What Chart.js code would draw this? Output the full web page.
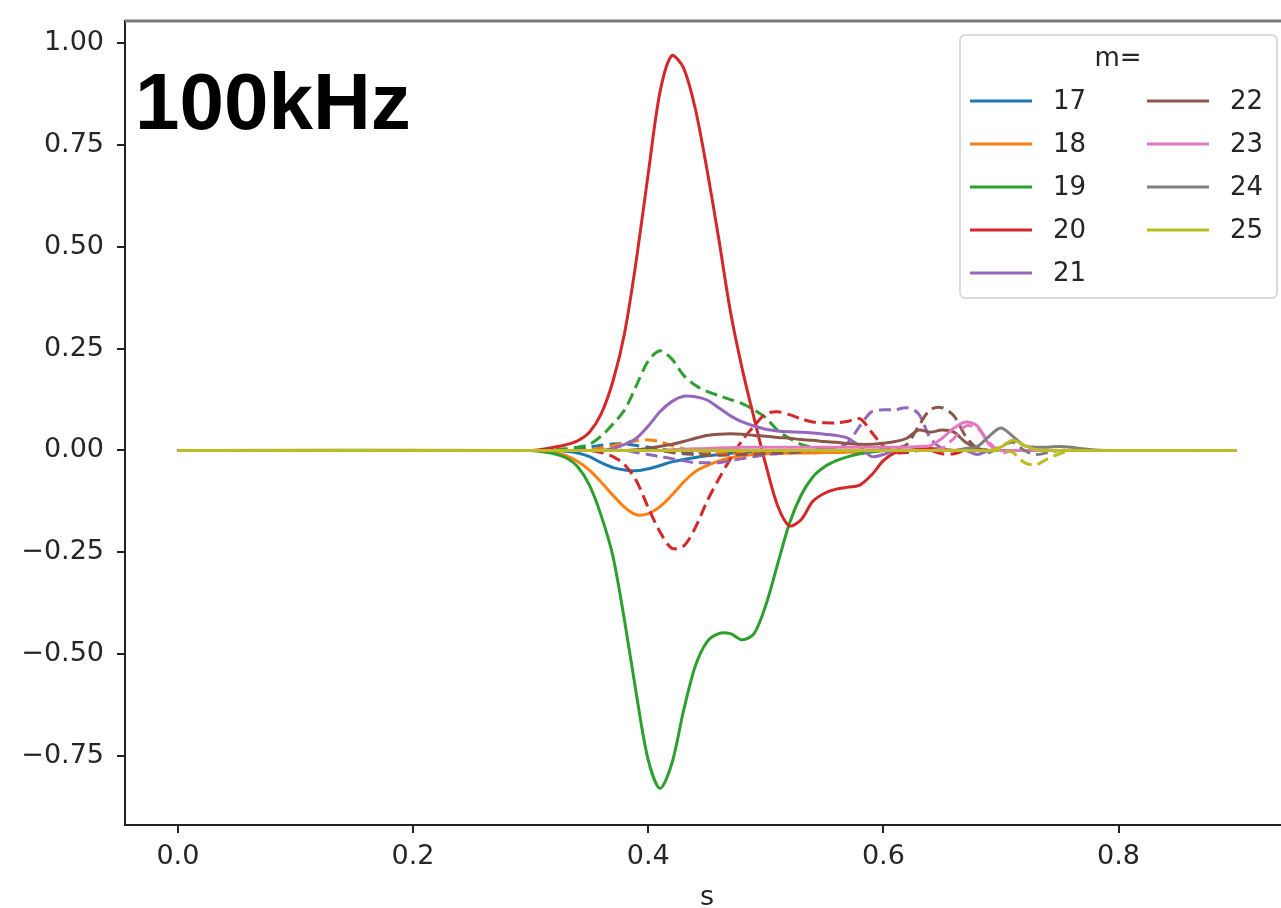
<!DOCTYPE html>
<html>
<head>
<meta charset="utf-8">
<script src="https://cdn.jsdelivr.net/npm/chart.js@4"></script>
<style>
  body { margin: 0; background: #fff; overflow: hidden; }
  canvas { display: block; }
</style>
</head>
<body>
<canvas id="chart" width="1300" height="908"></canvas>
<script>
// s positions (0.0, then 0.30 .. 0.80 in 0.01 steps, then 0.90)
const sValues = [0.00,
  0.30, 0.31, 0.32, 0.33, 0.34, 0.35, 0.36, 0.37, 0.38, 0.39,
  0.40, 0.41, 0.42, 0.43, 0.44, 0.45, 0.46, 0.47, 0.48, 0.49,
  0.50, 0.51, 0.52, 0.53, 0.54, 0.55, 0.56, 0.57, 0.58, 0.59,
  0.60, 0.61, 0.62, 0.63, 0.64, 0.65, 0.66, 0.67, 0.68, 0.69,
  0.70, 0.71, 0.72, 0.73, 0.74, 0.75, 0.76, 0.77, 0.78, 0.79,
  0.80, 0.90];

const modes = ["17", "18", "19", "20", "21", "22", "23", "24", "25"];
const colors = ["#1f77b4", "#ff7f0e", "#2ca02c", "#d62728", "#9467bd",
                "#8c564b", "#e377c2", "#7f7f7f", "#bcbd22"];

// solid lines
const re17 = [0,
  0, 0, 0, -0.002, -0.006, -0.015, -0.03, -0.042, -0.048, -0.05,
  -0.045, -0.037, -0.028, -0.022, -0.017, -0.013, -0.01, -0.007, -0.005, -0.003,
  -0.002, 0, 0, 0, 0, 0, 0, 0, 0, 0,
  0, 0, 0, 0, 0, 0, 0, 0, 0, 0,
  0, 0, 0, 0, 0, 0, 0, 0, 0, 0,
  0, 0];
const re18 = [0,
  0, -0.002, -0.005, -0.013, -0.027, -0.048, -0.078, -0.11, -0.14, -0.158,
  -0.155, -0.138, -0.11, -0.078, -0.052, -0.037, -0.026, -0.018, -0.013, -0.01,
  -0.008, -0.007, -0.006, -0.006, -0.006, -0.005, -0.005, -0.004, -0.003, -0.002,
  0, 0, 0, 0, 0, 0, 0, 0, 0, 0,
  0, 0, 0, 0, 0, 0, 0, 0, 0, 0,
  0, 0];
const re19 = [0,
  0, -0.003, -0.008, -0.018, -0.04, -0.085, -0.16, -0.26, -0.42, -0.60,
  -0.76, -0.83, -0.77, -0.64, -0.53, -0.47, -0.45, -0.45, -0.465, -0.45,
  -0.38, -0.28, -0.18, -0.11, -0.065, -0.04, -0.025, -0.015, -0.008, -0.004,
  0, 0, 0, 0, 0, 0, 0, 0, 0, 0,
  0, 0, 0, 0, 0, 0, 0, 0, 0, 0,
  0, 0];
const re20 = [0,
  0, 0.003, 0.008, 0.014, 0.024, 0.045, 0.09, 0.17, 0.29, 0.47,
  0.68, 0.88, 0.97, 0.94, 0.84, 0.69, 0.52, 0.34, 0.20, 0.08,
  -0.035, -0.135, -0.185, -0.17, -0.125, -0.105, -0.095, -0.09, -0.085, -0.06,
  -0.025, -0.005, 0, 0.003, 0.005, 0.003, 0, 0, 0, 0,
  0, 0, 0, 0, 0, 0, 0, 0, 0, 0,
  0, 0];
const re21 = [0,
  0, 0, 0, 0, 0, 0, 0, 0.005, 0.015, 0.03,
  0.06, 0.095, 0.12, 0.133, 0.132, 0.124, 0.105, 0.085, 0.07, 0.06,
  0.052, 0.048, 0.046, 0.045, 0.043, 0.04, 0.037, 0.03, 0.01, -0.015,
  -0.01, 0, 0, 0, 0, 0, 0, 0, -0.01, 0,
  0, 0, 0, 0, 0, 0, 0, 0, 0, 0,
  0, 0];
const re22 = [0,
  0, 0, 0, 0, 0, 0, 0, 0, 0, 0.002,
  0.005, 0.01, 0.015, 0.022, 0.03, 0.037, 0.04, 0.041, 0.04, 0.037,
  0.035, 0.032, 0.03, 0.027, 0.025, 0.022, 0.02, 0.017, 0.015, 0.015,
  0.018, 0.022, 0.03, 0.05, 0.045, 0.05, 0.045, 0.02, 0.005, 0,
  0, 0, 0, 0, 0, 0, 0, 0, 0, 0,
  0, 0];
const re23 = [0,
  0, 0, 0, 0, 0, 0, 0, 0, 0, 0,
  0, 0, 0.002, 0.003, 0.004, 0.005, 0.006, 0.007, 0.008, 0.008,
  0.008, 0.008, 0.008, 0.008, 0.008, 0.008, 0.008, 0.008, 0.008, 0.008,
  0.008, 0.008, 0.008, 0.01, 0.012, 0.03, 0.055, 0.07, 0.06, 0.015,
  0, 0, 0, 0, 0, 0, 0, 0, 0, 0,
  0, 0];
const re24 = [0,
  0, 0, 0, 0, 0, 0, 0, 0, 0, 0,
  0, 0, 0, 0, 0, 0, 0, 0, 0, 0,
  0, 0, 0, 0, 0, 0, 0, 0, 0, 0,
  0, 0, 0, 0, 0, 0, 0, 0.005, 0.01, 0.035,
  0.055, 0.035, 0.012, 0.008, 0.008, 0.01, 0.008, 0.004, 0.001, 0,
  0, 0];
const re25 = [0,
  0, 0, 0, 0, 0, 0, 0, 0, 0, 0,
  0, 0, 0, 0, 0, 0, 0, 0, 0, 0,
  0, 0, 0, 0, 0, 0, 0, 0, 0, 0,
  0, 0, 0, 0, 0, 0, 0, 0, 0, 0,
  0.008, 0.025, 0.012, 0.002, 0, 0, 0, 0, 0, 0,
  0, 0];

// dashed lines
const im17 = [0,
  0, 0, 0, 0, 0.004, 0.008, 0.013, 0.016, 0.016, 0.012,
  0.008, 0.003, 0, -0.003, -0.005, -0.005, -0.004, -0.002, 0, 0,
  0, 0, 0, 0, 0, 0, 0, 0, 0, 0,
  0, 0, 0, 0, 0, 0, 0, 0, 0, 0,
  0, 0, 0, 0, 0, 0, 0, 0, 0, 0,
  0, 0];
const im18 = [0,
  0, 0, 0, 0, 0, 0.002, 0.006, 0.012, 0.018, 0.024,
  0.026, 0.022, 0.012, 0.004, 0, -0.004, -0.006, -0.006, -0.006, -0.006,
  -0.006, -0.006, -0.006, -0.005, -0.005, -0.004, -0.004, -0.003, -0.002, -0.001,
  0, 0, 0, 0, 0, 0, 0, 0, 0, 0,
  0, 0, 0, 0, 0, 0, 0, 0, 0, 0,
  0, 0];
const im19 = [0,
  0, 0, 0.002, 0.004, 0.008, 0.015, 0.035, 0.065, 0.10, 0.16,
  0.22, 0.245, 0.225, 0.185, 0.16, 0.145, 0.135, 0.125, 0.115, 0.10,
  0.08, 0.05, 0.03, 0.015, 0.007, 0.003, 0, 0, 0, 0,
  0, 0, 0, 0, 0, 0, 0, 0, 0, 0,
  0, 0, 0, 0, 0, 0, 0, 0, 0, 0,
  0, 0];
const im20 = [0,
  0, 0, 0, 0, 0, 0, -0.005, -0.015, -0.035, -0.075,
  -0.14, -0.20, -0.24, -0.235, -0.19, -0.125, -0.07, -0.02, 0.025, 0.06,
  0.09, 0.095, 0.088, 0.078, 0.07, 0.068, 0.068, 0.072, 0.078, 0.045,
  0.01, -0.005, -0.005, 0, 0, -0.008, -0.008, 0, 0, 0,
  0, 0, 0, 0, 0, 0, 0, 0, 0, 0,
  0, 0];
const im21 = [0,
  0, 0, 0, 0, 0, 0, 0, 0, 0, -0.005,
  -0.01, -0.015, -0.02, -0.025, -0.03, -0.03, -0.03, -0.025, -0.02, -0.015,
  -0.01, -0.008, -0.005, -0.003, 0, 0.002, 0.005, 0.02, 0.06, 0.095,
  0.10, 0.10, 0.105, 0.09, 0.03, 0.005, 0, 0, 0, 0,
  0, 0, 0, 0, 0, 0, 0, 0, 0, 0,
  0, 0];
const im22 = [0,
  0, 0, 0, 0, 0, 0, 0, 0, 0, 0,
  0, 0, -0.005, -0.008, -0.01, -0.012, -0.012, -0.011, -0.01, -0.009,
  -0.008, -0.006, -0.005, -0.003, 0, 0, 0, 0, 0, 0,
  0.003, 0.005, 0.015, 0.06, 0.10, 0.105, 0.085, 0.035, 0.005, 0,
  0, 0, 0, 0, 0, 0, 0, 0, 0, 0,
  0, 0];
const im23 = [0,
  0, 0, 0, 0, 0, 0, 0, 0, 0, 0,
  0, 0, 0, 0, 0, 0, 0, 0, 0, 0,
  0, 0, 0, 0, 0, 0, 0, 0, 0, 0,
  0, 0, 0, 0, 0, 0.005, 0.03, 0.06, 0.055, 0.02,
  -0.005, 0, 0, 0, 0, 0, 0, 0, 0, 0,
  0, 0];
const im24 = [0,
  0, 0, 0, 0, 0, 0, 0, 0, 0, 0,
  0, 0, 0, 0, 0, 0, 0, 0, 0, 0,
  0, 0, 0, 0, 0, 0, 0, 0, 0, 0,
  0, 0, 0, 0, 0, 0, 0, 0, 0, -0.005,
  0.01, 0.02, 0, -0.01, -0.005, 0, 0, 0, 0, 0,
  0, 0];
const im25 = [0,
  0, 0, 0, 0, 0, 0, 0, 0, 0, 0,
  0, 0, 0, 0, 0, 0, 0, 0, 0, 0,
  0, 0, 0, 0, 0, 0, 0, 0, 0, 0,
  0, 0, 0, 0, 0, 0, 0, 0, 0, 0,
  0, -0.005, -0.03, -0.035, -0.02, -0.008, 0, 0, 0, 0,
  0, 0];

const realParts = [re17, re18, re19, re20, re21, re22, re23, re24, re25];
const imagParts = [im17, im18, im19, im20, im21, im22, im23, im24, im25];

const xTicks = [0.0, 0.2, 0.4, 0.6, 0.8];
const yTicks = [-0.75, -0.5, -0.25, 0.0, 0.25, 0.5, 0.75, 1.0];
const freqLabel = "100kHz";
const legendTitle = "m=";

const tickFont = { family: "DejaVu Sans", size: 27 };
const textColor = "#262626";

function toPoints(values) {
    return sValues.map((s, i) => ({ x: s, y: values[i] }));
}

let datasets = [];
modes.forEach((m, k) => {
    datasets.push({
        label: m,
        data: toPoints(realParts[k]),
        borderColor: colors[k],
        borderWidth: 3,
        pointRadius: 0,
        tension: 0.3,
        fill: false
    });
    datasets.push({
        label: m + " im",
        data: toPoints(imagParts[k]),
        borderColor: colors[k],
        borderWidth: 3,
        borderDash: [12, 6],
        pointRadius: 0,
        tension: 0.3,
        fill: false
    });
});
// later datasets drawn on top, like matplotlib
datasets.forEach((d, i) => { d.order = datasets.length - i; });

// top spine, frequency label and the two column legend
const extras = {
    id: "extras",
    afterDraw(chart) {
        const ctx = chart.ctx;
        const a = chart.chartArea;
        ctx.save();

        ctx.strokeStyle = "#7a7a7a";
        ctx.lineWidth = 3;
        ctx.beginPath();
        ctx.moveTo(a.left, a.top);
        ctx.lineTo(a.right, a.top);
        ctx.stroke();

        ctx.fillStyle = "#000";
        ctx.font = 'bold 80px "Liberation Sans", Arial, sans-serif';
        ctx.textBaseline = "alphabetic";
        ctx.textAlign = "left";
        ctx.fillText(freqLabel, a.left + 10, 129);

        // legend box
        const bx = a.right - 329, by = a.top + 14, bw = 317, bh = 263;
        ctx.beginPath();
        ctx.roundRect(bx, by, bw, bh, 5);
        ctx.fillStyle = "rgba(255,255,255,0.8)";
        ctx.fill();
        ctx.strokeStyle = "#d0d0d0";
        ctx.lineWidth = 1.5;
        ctx.stroke();

        ctx.fillStyle = textColor;
        ctx.font = '26px "DejaVu Sans"';
        ctx.textAlign = "center";
        ctx.textBaseline = "middle";
        ctx.fillText(legendTitle, bx + 158, by + 24);

        ctx.textAlign = "left";
        modes.forEach((m, k) => {
            const col = k < 5 ? 0 : 1;
            const row = k < 5 ? k : k - 5;
            const lx = bx + (col === 0 ? 10 : 187);
            const ly = by + 66 + row * 43;
            ctx.strokeStyle = colors[k];
            ctx.lineWidth = 3;
            ctx.beginPath();
            ctx.moveTo(lx, ly);
            ctx.lineTo(lx + 62, ly);
            ctx.stroke();
            ctx.fillStyle = textColor;
            ctx.fillText(m, lx + 83, ly + 1);
        });
        ctx.restore();
    }
};

new Chart(document.getElementById("chart").getContext("2d"), {
    type: "line",
    data: { datasets: datasets },
    options: {
        responsive: false,
        animation: false,
        layout: { padding: { top: 21, right: 11, left: 0, bottom: 0 } },
        plugins: {
            legend: { display: false },
            tooltip: { enabled: false }
        },
        scales: {
            x: {
                type: "linear",
                min: -0.045,
                max: 0.945,
                afterBuildTicks: (scale) => { scale.ticks = xTicks.map(v => ({ value: v })); },
                afterFit: (scale) => {
                    scale.height = 83;
                    scale.paddingLeft = 0;
                    scale.paddingRight = 0;
                },
                ticks: {
                    font: tickFont,
                    color: textColor,
                    padding: 8,
                    maxRotation: 0,
                    callback: (v) => Number(v).toFixed(1)
                },
                grid: { drawOnChartArea: false, drawTicks: true, tickLength: 8, color: "#222", lineWidth: 2 },
                border: { display: true, color: "#222", width: 2 },
                title: { display: true, text: "s", font: tickFont, color: textColor, padding: { top: 0, bottom: -6 } }
            },
            y: {
                type: "linear",
                min: -0.92,
                max: 1.055,
                afterBuildTicks: (scale) => { scale.ticks = yTicks.map(v => ({ value: v })); },
                afterFit: (scale) => {
                    scale.width = 125;
                    scale.paddingTop = 0;
                    scale.paddingBottom = 0;
                },
                ticks: {
                    font: tickFont,
                    color: textColor,
                    padding: 13,
                    callback: (v) => (v < 0 ? "\u2212" : "") + Math.abs(v).toFixed(2)
                },
                grid: { drawOnChartArea: false, drawTicks: true, tickLength: 8, color: "#222", lineWidth: 2 },
                border: { display: true, color: "#222", width: 2 }
            }
        }
    },
    plugins: [extras]
});
</script>
</body>
</html>
